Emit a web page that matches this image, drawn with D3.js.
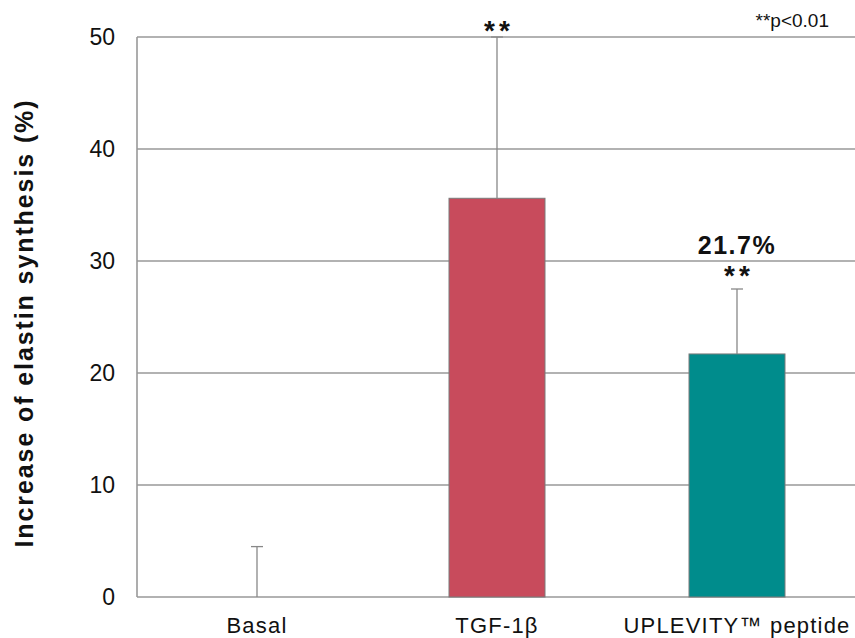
<!DOCTYPE html>
<html>
<head>
<meta charset="utf-8">
<script src="https://cdn.jsdelivr.net/npm/d3@7"></script>
<style>
  body { margin: 0; background: #fff; }
  svg { display: block; font-family: "Liberation Sans", Arial, sans-serif; }
</style>
</head>
<body>
<svg id="chart" width="855" height="638"></svg>
<script>
// data
const categories = ["Basal", "TGF-1\u03b2", "UPLEVITY\u2122 peptide"];
const values = [0, 35.6, 21.7];
const errors = [4.5, 14.4, 5.8];
const colors = ["#ffffff", "#c84b5c", "#008c8c"];
const stars = ["", "**", "**"];
const valueLabels = ["", "", "21.7%"];
const yTicks = [0, 10, 20, 30, 40, 50];

const svg = d3.select("#chart");
const margin = { top: 37, right: -2, bottom: 41, left: 137 };
const W = 855, H = 638;

const x = d3.scaleBand()
  .domain(categories)
  .range([margin.left, W - margin.right])
  .paddingInner(0.6)
  .paddingOuter(0.3);

const y = d3.scaleLinear()
  .domain([0, 50])
  .range([H - margin.bottom, margin.top]);

// gridlines
svg.append("g")
  .selectAll("line")
  .data(yTicks)
  .join("line")
  .attr("x1", margin.left)
  .attr("x2", W)
  .attr("y1", d => y(d))
  .attr("y2", d => y(d))
  .attr("stroke", "#999")
  .attr("stroke-width", 1.6);

// y axis line
svg.append("line")
  .attr("x1", margin.left).attr("x2", margin.left)
  .attr("y1", y(0)).attr("y2", y(50))
  .attr("stroke", "#999")
  .attr("stroke-width", 1.6);

// y tick labels
svg.append("g")
  .selectAll("text")
  .data(yTicks)
  .join("text")
  .attr("x", 115)
  .attr("y", d => y(d) + 8)
  .attr("text-anchor", "end")
  .style("font-size", "23px")
  .attr("fill", "#111")
  .text(d => d);

// bars
svg.append("g")
  .selectAll("rect")
  .data(categories)
  .join("rect")
  .attr("x", d => x(d))
  .attr("width", x.bandwidth())
  .attr("y", (d, i) => y(values[i]))
  .attr("height", (d, i) => y(0) - y(values[i]))
  .attr("fill", (d, i) => colors[i])
  .attr("stroke", (d, i) => values[i] > 0 ? "#7a7a7a" : "none")
  .attr("stroke-width", 1);

// error bars
const eb = svg.append("g");
categories.forEach((c, i) => {
  const cx = x(c) + x.bandwidth() / 2;
  eb.append("line")
    .attr("x1", cx).attr("x2", cx)
    .attr("y1", y(values[i])).attr("y2", y(values[i] + errors[i]))
    .attr("stroke", "#888").attr("stroke-width", 1.3);
  eb.append("line")
    .attr("x1", cx - 6).attr("x2", cx + 6)
    .attr("y1", y(values[i] + errors[i])).attr("y2", y(values[i] + errors[i]))
    .attr("stroke", "#888").attr("stroke-width", 1.3);
});

// significance stars (kept clear of the top gridline)
svg.append("g")
  .selectAll("text")
  .data(categories)
  .join("text")
  .attr("x", d => x(d) + x.bandwidth() / 2 + 2)
  .attr("y", (d, i) => Math.max(y(values[i] + errors[i]) - 4, y(50) + 3))
  .attr("text-anchor", "middle")
  .style("font-size", "28px")
  .style("font-weight", "bold")
  .style("letter-spacing", "4px")
  .attr("fill", "#111")
  .text((d, i) => stars[i]);

// value label
svg.append("g")
  .selectAll("text")
  .data(categories)
  .join("text")
  .attr("x", d => x(d) + x.bandwidth() / 2)
  .attr("y", (d, i) => y(values[i] + errors[i]) - 35)
  .attr("text-anchor", "middle")
  .style("font-size", "25px")
  .style("font-weight", "bold")
  .style("letter-spacing", "1.5px")
  .attr("fill", "#111")
  .text((d, i) => valueLabels[i]);

// category labels
svg.append("g")
  .selectAll("text")
  .data(categories)
  .join("text")
  .attr("x", d => x(d) + x.bandwidth() / 2)
  .attr("y", 633)
  .attr("text-anchor", "middle")
  .style("font-size", "22px")
  .style("letter-spacing", "1.2px")
  .attr("fill", "#111")
  .text(d => d);

// y axis title
svg.append("text")
  .attr("transform", "translate(33," + ((y(0) + y(50)) / 2 + 6) + ") rotate(-90)")
  .attr("text-anchor", "middle")
  .style("font-size", "25px")
  .style("font-weight", "bold")
  .style("letter-spacing", "1.9px")
  .attr("fill", "#111")
  .text("Increase of elastin synthesis (%)");

// p-value note
svg.append("text")
  .attr("x", 829)
  .attr("y", 27)
  .attr("text-anchor", "end")
  .style("font-size", "19px")
  .attr("fill", "#111")
  .text("**p<0.01");
</script>
</body>
</html>
